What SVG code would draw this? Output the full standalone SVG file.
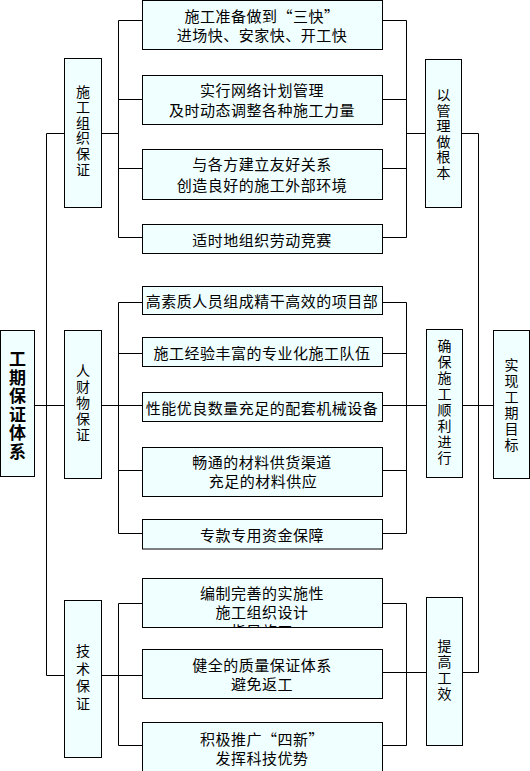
<svg xmlns="http://www.w3.org/2000/svg" width="530" height="771" viewBox="0 0 530 771">
<style>
rect{fill:#f0ffff;stroke:#000;stroke-width:1}
text{font-family:"Noto Sans CJK SC","Noto Sans",sans-serif;font-size:15px;fill:#000;text-anchor:middle;dominant-baseline:central;letter-spacing:0.5px}
.v{font-size:14px;writing-mode:vertical-rl}
.m{font-size:17px;font-weight:bold;writing-mode:vertical-rl}
#connectors path{fill:none;stroke:#000;stroke-width:1}
</style>
<defs>
<clipPath id="c10"><rect x="143" y="579" width="239" height="48"/></clipPath>
</defs>
<rect x="-10" y="-10" width="550" height="800" style="fill:#fff;stroke:none"/>
<g id="connectors">
<path d="M34.5,405.5H64.5M46.5,133.5V675.5M46.5,133.5H64.5M46.5,675.5H64.5"/>
<path d="M101.5,133.5H118.5M118.5,20.5V237.5M118.5,20.5H142.5M118.5,99.5H142.5M118.5,168.5H142.5M118.5,237.5H142.5"/>
<path d="M101.5,405.5H118.5M118.5,302.5V533.5M118.5,302.5H142.5M118.5,353.5H142.5M118.5,405.5H142.5M118.5,470.5H142.5M118.5,533.5H142.5"/>
<path d="M101.5,675.5H118.5M118.5,603.5V745.5M118.5,603.5H142.5M118.5,675.5H142.5M118.5,745.5H142.5"/>
<path d="M382.5,20.5H406.5M382.5,99.5H406.5M382.5,168.5H406.5M382.5,237.5H406.5M406.5,20.5V237.5M406.5,133.5H425.5M461.5,133.5H478.5"/>
<path d="M382.5,302.5H406.5M382.5,353.5H406.5M382.5,405.5H406.5M382.5,470.5H406.5M382.5,533.5H406.5M406.5,302.5V533.5M406.5,405.5H426.5M462.5,405.5H493.5"/>
<path d="M382.5,603.5H406.5M382.5,672.5H406.5M382.5,745.5H406.5M406.5,603.5V745.5M406.5,672.5H426.5M462.5,672.5H478.5"/>
<path d="M478.5,133.5V672.5"/>
</g>
<g id="main"><rect x="0.5" y="330.5" width="34" height="146"/>
<text class="m" x="17.5" y="406" style="letter-spacing:1.5px">工期保证体系</text></g>
<g id="g1"><rect x="64.5" y="58.5" width="37" height="149"/>
<text class="v" x="83" y="131" style="letter-spacing:1.6px">施工组织保证</text></g>
<g id="g2"><rect x="64.5" y="330.5" width="37" height="148"/>
<text class="v" x="83" y="404" style="letter-spacing:2px">人财物保证</text></g>
<g id="g3"><rect x="64.5" y="600.5" width="37" height="157"/>
<text class="v" x="83" y="679" style="letter-spacing:3.5px">技术保证</text></g>
<g id="b1"><rect x="142.5" y="0.5" width="240" height="49"/>
<text x="262" y="15">施工准备做到“三快”</text><text x="262" y="34">进场快、安家快、开工快</text></g>
<g id="b2"><rect x="142.5" y="75.5" width="240" height="49"/>
<text x="262" y="89">实行网络计划管理</text><text x="262" y="109">及时动态调整各种施工力量</text></g>
<g id="b3"><rect x="142.5" y="149.5" width="240" height="50"/>
<text x="262" y="163">与各方建立友好关系</text><text x="262" y="184">创造良好的施工外部环境</text></g>
<g id="b4"><rect x="142.5" y="224.5" width="240" height="29"/>
<text x="262" y="239">适时地组织劳动竞赛</text></g>
<g id="b5"><rect x="142.5" y="286.5" width="240" height="28"/>
<text x="262" y="300.5">高素质人员组成精干高效的项目部</text></g>
<g id="b6"><rect x="142.5" y="337.5" width="240" height="29"/>
<text x="262" y="352">施工经验丰富的专业化施工队伍</text></g>
<g id="b7"><rect x="142.5" y="392.5" width="240" height="29"/>
<text x="262" y="407">性能优良数量充足的配套机械设备</text></g>
<g id="b8"><rect x="142.5" y="447.5" width="240" height="49"/>
<text x="262" y="461.5">畅通的材料供货渠道</text><text x="263" y="480.5">充足的材料供应</text></g>
<g id="b9"><rect x="142.5" y="519.5" width="240" height="29.5"/>
<text x="262" y="534">专款专用资金保障</text></g>
<g id="b10"><rect x="142.5" y="578.5" width="240" height="49"/>
<g clip-path="url(#c10)"><text x="262" y="592">编制完善的实施性</text><text x="262" y="611.5">施工组织设计</text><text x="262" y="630.5">指导施工</text></g></g>
<g id="b11"><rect x="142.5" y="649.5" width="240" height="49"/>
<text x="262" y="664.5">健全的质量保证体系</text><text x="262" y="683.5">避免返工</text></g>
<g id="b12"><rect x="142.5" y="722.5" width="240" height="60"/>
<text x="262" y="738.5">积极推广“四新”</text><text x="262" y="757.5">发挥科技优势</text></g>
<g id="r1"><rect x="425.5" y="59.5" width="36" height="148"/>
<text class="v" x="443.5" y="134.5" style="letter-spacing:1.5px">以管理做根本</text></g>
<g id="r2"><rect x="426.5" y="329.5" width="36" height="148"/>
<text class="v" x="444.5" y="402.5" style="letter-spacing:1.9px">确保施工顺利进行</text></g>
<g id="r3"><rect x="426.5" y="597.5" width="36" height="148"/>
<text class="v" x="444.5" y="671" style="letter-spacing:2px">提高工效</text></g>
<g id="final"><rect x="493.5" y="330.5" width="36" height="148"/>
<text class="v" x="511.5" y="405.5" style="letter-spacing:1.9px">实现工期目标</text></g>
</svg>
